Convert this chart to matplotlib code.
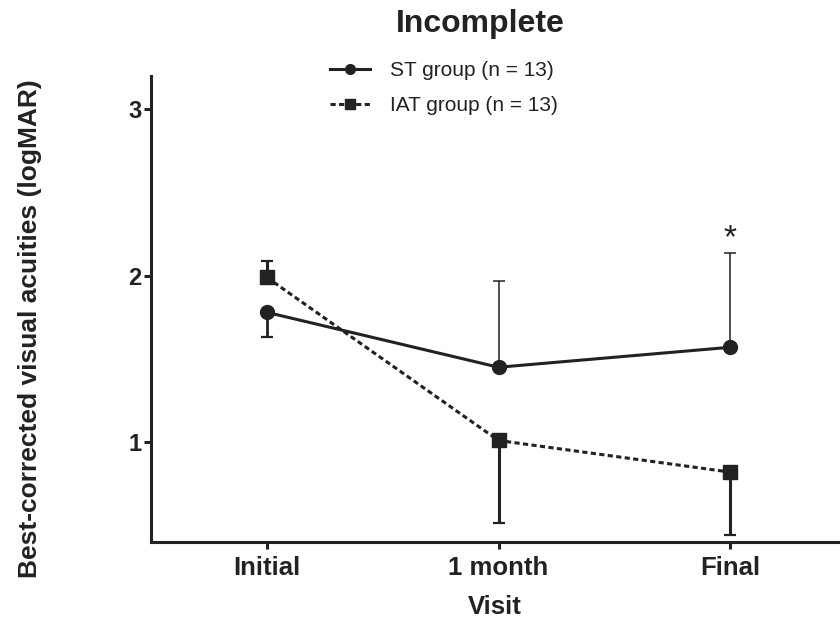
import numpy as np
import matplotlib
matplotlib.use('Agg')
import matplotlib.pyplot as plt
from matplotlib.lines import Line2D

plt.rcParams['font.family'] = ['Liberation Sans', 'DejaVu Sans']

# Date
visits = ['Initial', '1 month', 'Final']
st_mean = [1.78, 1.45, 1.57]
st_err_low = [0.15, 0.0, 0.0]
st_err_up = [0.0, 0.52, 0.565]
iat_mean = [1.99, 1.01, 0.82]
iat_err_low = [0.0, 0.495, 0.38]
iat_err_up = [0.10, 0.0, 0.0]
y_ticks = [1, 2, 3]

x = np.arange(len(visits))
zero = np.zeros(len(visits))

fig = plt.figure(figsize=(8.4, 6.22), dpi=100)
ax = fig.add_axes([151 / 840, 80 / 622, 695 / 840, 466 / 622])

# bare de eroare: in jos groase, ST in sus subtiri
ax.errorbar(x, st_mean, yerr=[st_err_low, zero], fmt='none', ecolor='#222222',
            elinewidth=2.0, capsize=4, capthick=1.6, zorder=2)
ax.errorbar(x, st_mean, yerr=[zero, st_err_up], fmt='none', ecolor='#222222',
            elinewidth=1.1, capsize=4, capthick=1.1, zorder=2)
ax.errorbar(x, iat_mean, yerr=[iat_err_low, iat_err_up], fmt='none', ecolor='#222222',
            elinewidth=2.2, capsize=4, capthick=1.6, zorder=2)

# liniile principale
ax.plot(x, st_mean, color='#222222', lw=2.2, marker='o', ms=10, zorder=3)
ax.plot(x, iat_mean, color='#222222', lw=2.2, ls=(0, (1.7, 1.1)), marker='s', ms=10, zorder=3)

ax.text(x[2], 2.17, '*', ha='center', va='baseline', fontsize=24, color='#222222')

ax.set_xlim(-0.5, 2.5)
ax.set_ylim(0.4, 3.2)
ax.set_xticks(x)
ax.set_xticklabels(visits, fontsize=18.5, fontweight='bold', color='#222222')
ax.set_yticks(y_ticks)
ax.set_yticklabels([str(t) for t in y_ticks], fontsize=17, fontweight='bold', color='#222222')
ax.tick_params(axis='both', direction='out', length=5, width=2.2, color='#222222')
ax.tick_params(axis='y', pad=2)
ax.tick_params(axis='x', pad=5)

for side in ['top', 'right']:
    ax.spines[side].set_visible(False)
for side in ['left', 'bottom']:
    ax.spines[side].set_linewidth(2.2)
    ax.spines[side].set_color('#222222')

fig.text(495 / 840, 1 - 607 / 622, 'Visit', ha='center', va='center',
         fontsize=18.5, fontweight='bold', color='#222222')
fig.text(30 / 840, 1 - 329 / 622, 'Best-corrected visual acuities (logMAR)', rotation=90,
         ha='center', va='center', fontsize=19, fontweight='bold', color='#222222')

fig.text(480 / 840, 1 - 24 / 622, 'Incomplete', ha='center', va='center',
         fontsize=23, fontweight='bold', color='#222222')

handles = [
    Line2D([], [], color='#222222', lw=2.2, marker='o', ms=7),
    Line2D([], [], color='#222222', lw=2.2, ls=(0, (1.7, 1.1)), marker='s', ms=7),
]
labels = ['ST group (n = 13)', 'IAT group (n = 13)']
leg = fig.legend(handles, labels, loc='center left', bbox_to_anchor=(330 / 840, 1 - 88 / 622),
                 bbox_transform=fig.transFigure, frameon=False, borderpad=0, borderaxespad=0,
                 handlelength=1.9, handletextpad=1.0, labelspacing=0.78,
                 prop={'family': 'Liberation Sans', 'size': 15})
for t in leg.get_texts():
    t.set_color('#222222')

fig.savefig('out.png', dpi=100)
